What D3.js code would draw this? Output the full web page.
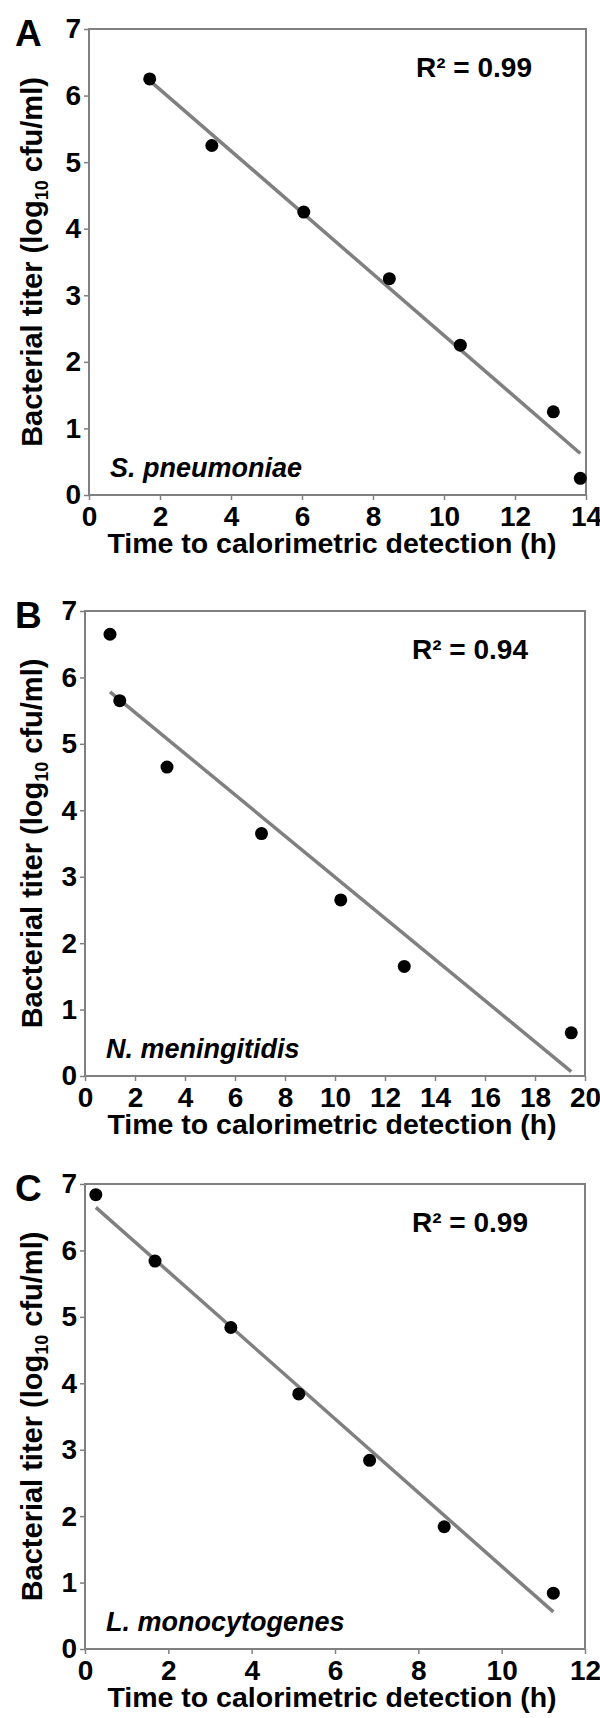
<!DOCTYPE html>
<html>
<head>
<meta charset="utf-8">
<script src="https://cdn.jsdelivr.net/npm/d3@7"></script>
<style>
  body { margin: 0; background: #fff; }
  svg { display: block; font-family: "Liberation Sans", Arial, sans-serif; font-weight: bold; }
</style>
</head>
<body>
<div id="chart"></div>
<script>
// values
const timeA = [1.71, 3.46, 6.05, 8.46, 10.46, 13.08, 13.84];
const titerA = [6.25, 5.25, 4.25, 3.25, 2.25, 1.25, 0.25];
const timeB = [1.0, 1.39, 3.28, 7.06, 10.23, 12.77, 19.45];
const titerB = [6.65, 5.65, 4.65, 3.65, 2.65, 1.65, 0.65];
const timeC = [0.26, 1.68, 3.5, 5.13, 6.83, 8.62, 11.24];
const titerC = [6.84, 5.84, 4.84, 3.84, 2.84, 1.84, 0.84];

const panelLetters = ['A', 'B', 'C'];
const speciesNames = ['S. pneumoniae', 'N. meningitidis', 'L. monocytogenes'];
const rSquared = ['0.99', '0.94', '0.99'];
const xMaxes = [14, 20, 12];
const yTickValues = [0, 1, 2, 3, 4, 5, 6, 7];
const xTitle = 'Time to calorimetric detection (h)';

const times = [timeA, timeB, timeC];
const titers = [titerA, titerB, titerC];

const boxes = [
  { left: 89, right: 586, top: 29, bottom: 495 },
  { left: 85, right: 585, top: 611, bottom: 1076 },
  { left: 85, right: 585, top: 1184, bottom: 1649 },
];

const gray = '#808080';

const svg = d3.select('#chart').append('svg').attr('width', 600).attr('height', 1718);

function fit(xs, ys) {
  const mx = d3.mean(xs), my = d3.mean(ys);
  let sxy = 0, sxx = 0;
  xs.forEach((x, i) => { sxy += (x - mx) * (ys[i] - my); sxx += (x - mx) * (x - mx); });
  const slope = sxy / sxx;
  return { slope, intercept: my - slope * mx };
}

boxes.forEach((b, p) => {
  const x = d3.scaleLinear().domain([0, xMaxes[p]]).range([b.left, b.right]);
  const y = d3.scaleLinear().domain([0, 7]).range([b.bottom, b.top]);
  const g = svg.append('g');

  const xAxis = g.append('g')
    .attr('transform', `translate(0,${b.bottom})`)
    .call(d3.axisBottom(x).tickValues(d3.range(0, xMaxes[p] + 1, 2))
      .tickFormat(d3.format('d')).tickSize(5).tickPadding(6));
  const yAxis = g.append('g')
    .attr('transform', `translate(${b.left},0)`)
    .call(d3.axisLeft(y).tickValues(yTickValues)
      .tickFormat(d3.format('d')).tickSize(5).tickPadding(3));

  [xAxis, yAxis].forEach(ax => {
    ax.select('.domain').remove();
    ax.selectAll('line').attr('stroke', gray).attr('stroke-width', 1.5);
    ax.selectAll('text').attr('fill', '#000').style('font-size', '28px')
      .style('font-family', '"Liberation Sans", Arial, sans-serif').style('font-weight', 'bold');
  });

  g.append('rect')
    .attr('x', b.left).attr('y', b.top)
    .attr('width', b.right - b.left).attr('height', b.bottom - b.top)
    .attr('fill', 'none').attr('stroke', gray).attr('stroke-width', 2);

  // regression line over the range of the data
  const xs = times[p], ys = titers[p];
  const f = fit(xs, ys);
  const x0 = d3.min(xs), x1 = d3.max(xs);
  g.append('line')
    .attr('x1', x(x0)).attr('y1', y(f.intercept + f.slope * x0))
    .attr('x2', x(x1)).attr('y2', y(f.intercept + f.slope * x1))
    .attr('stroke', gray).attr('stroke-width', 3.5);

  g.selectAll('.dot')
    .data(xs.map((v, i) => [v, ys[i]]))
    .enter()
    .append('circle')
    .attr('class', 'dot')
    .attr('cx', d => x(d[0]))
    .attr('cy', d => y(d[1]))
    .attr('r', 6.5)
    .attr('fill', '#000');

  // panel letter
  g.append('text')
    .attr('x', 15).attr('y', b.top + 17)
    .style('font-size', '37px')
    .text(panelLetters[p]);

  // R squared
  g.append('text')
    .attr('x', b.left + 327).attr('y', b.top + 48)
    .style('font-size', '28px')
    .text(`R² = ${rSquared[p]}`);

  // species name
  g.append('text')
    .attr('x', b.left + 21).attr('y', b.bottom - 18)
    .style('font-size', '27px').style('font-style', 'italic')
    .text(speciesNames[p]);

  // x title
  g.append('text')
    .attr('x', 332).attr('y', b.bottom + 58)
    .attr('text-anchor', 'middle')
    .style('font-size', '28.5px')
    .text(xTitle);

  // y title
  const yt = g.append('text')
    .attr('transform', `translate(42,${(b.top + b.bottom) / 2}) rotate(-90)`)
    .attr('text-anchor', 'middle')
    .style('font-size', '29px');
  yt.append('tspan').text('Bacterial titer (log');
  yt.append('tspan').attr('dy', 6).style('font-size', '18px').text('10');
  yt.append('tspan').attr('dy', -6).text(' cfu/ml)');
});
</script>
</body>
</html>
